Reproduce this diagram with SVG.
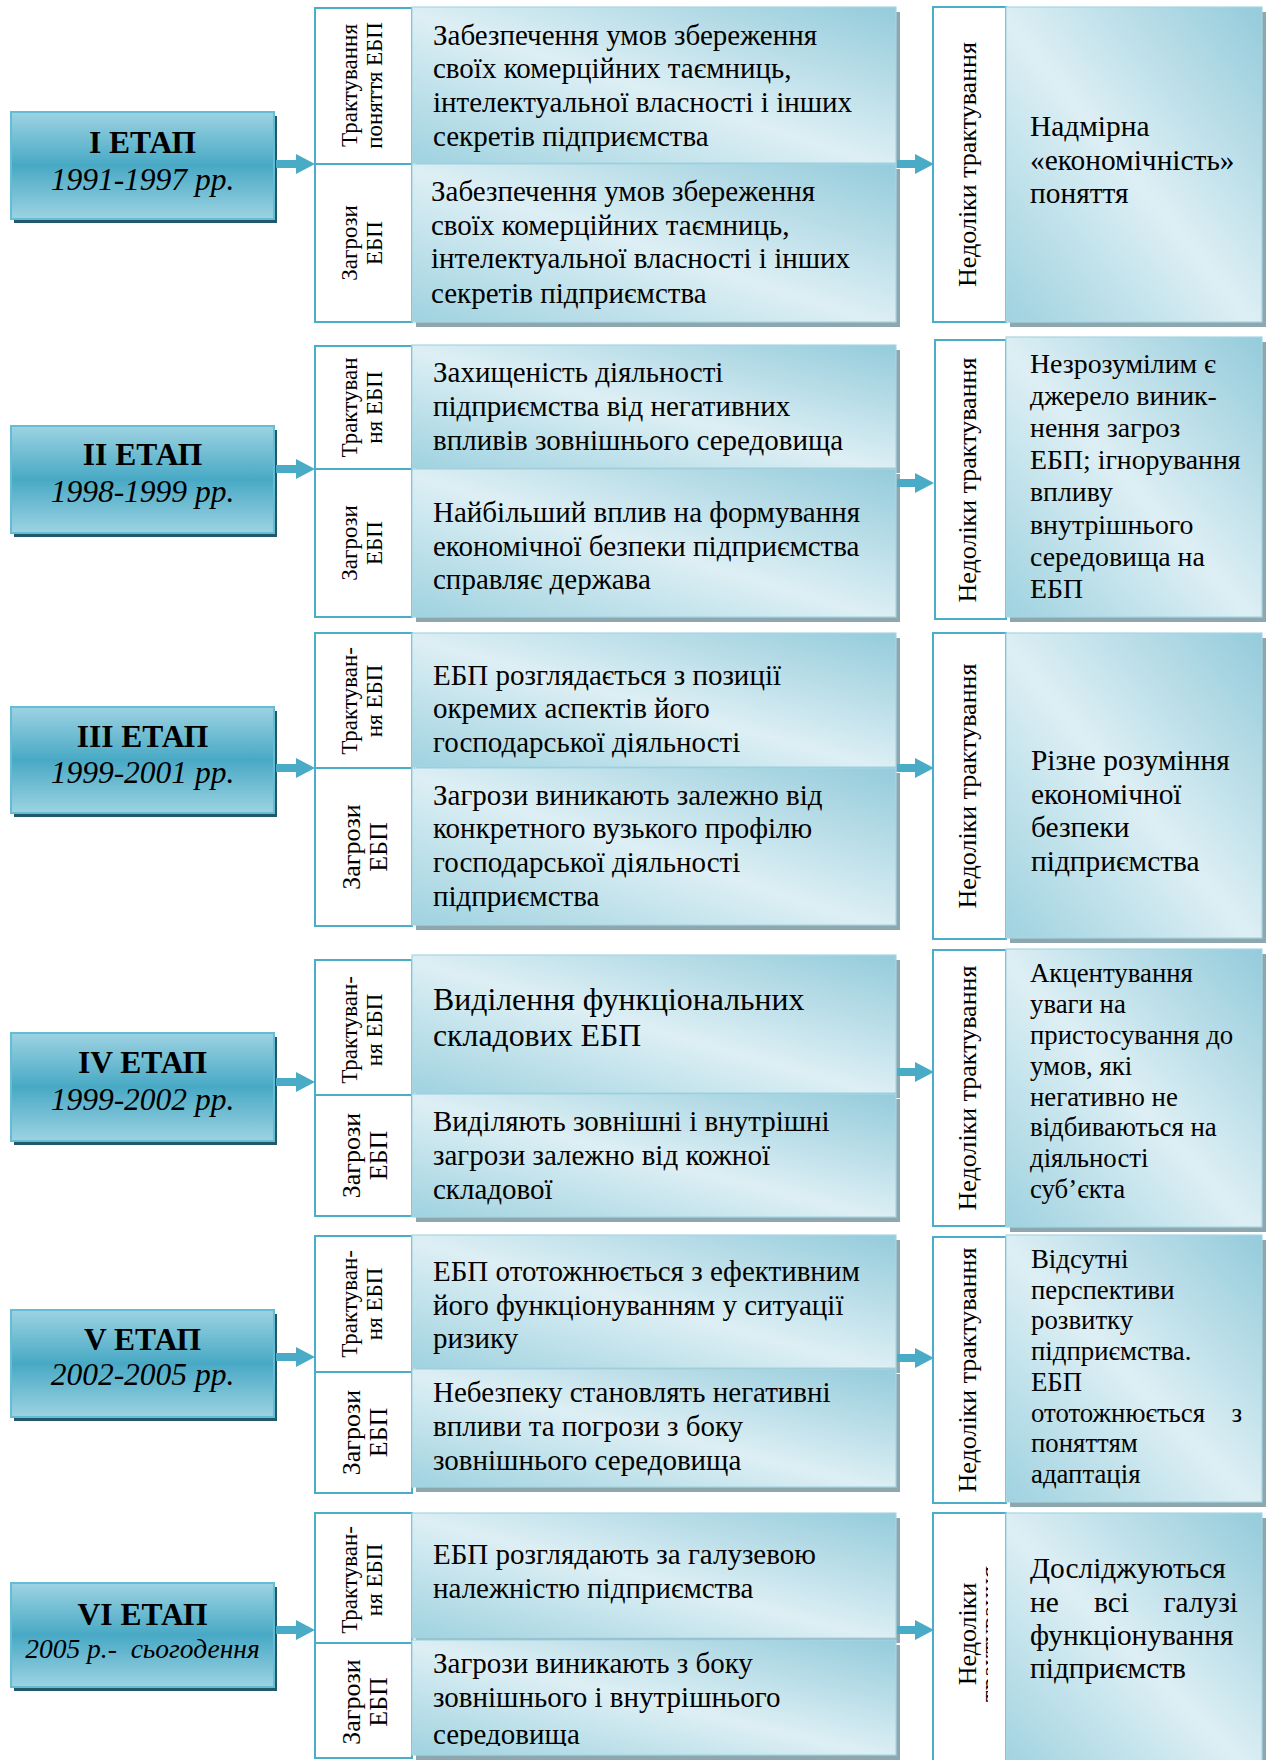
<svg xmlns="http://www.w3.org/2000/svg" width="1268" height="1760" viewBox="0 0 1268 1760">
<defs>
<linearGradient id="gStage" x1="0" y1="0" x2="0" y2="1">
<stop offset="0" stop-color="#9dd3e2"/>
<stop offset="0.5" stop-color="#48a9c5"/>
<stop offset="1" stop-color="#9dd3e2"/>
</linearGradient>
<linearGradient id="gCont" x1="0" y1="1" x2="1" y2="0">
<stop offset="0" stop-color="#9fd2e0"/>
<stop offset="0.48" stop-color="#ddeff4"/>
<stop offset="1" stop-color="#94cbdb"/>
</linearGradient>
<clipPath id="clipNed6"><rect x="930" y="1500" width="58" height="270"/></clipPath>
<clipPath id="clipC6"><rect x="410" y="1640" width="500" height="106"/></clipPath>
</defs>
<style>
.t{font-family:"Liberation Serif","Times New Roman",serif;fill:#000}
.sbox{fill:url(#gStage);stroke:#63bdd5;stroke-width:2}
.sshd{fill:#22596a}
.lbl{fill:#fff;stroke:#4aaec9;stroke-width:2}
.cb{fill:url(#gCont);stroke:#a6d6e3;stroke-width:1.2}
.csh{fill:#8ea6ad}
.arr{fill:#4aabc6}
.st{font-size:31.5px;font-weight:bold;text-anchor:middle}
.yr{font-size:31.5px;font-style:italic;text-anchor:middle}
.lt{font-size:23px;text-anchor:middle}
.lz{font-size:26px;text-anchor:middle}
.nd{font-size:26px;text-anchor:middle}
.c29{font-size:29px}
.c31{font-size:31.8px}
.r29{font-size:29.4px}
.r28{font-size:27.8px}
.r265{font-size:26.8px}
</style>

<!-- Row 1 -->
<g id="stage1">
<rect class="sshd" x="14" y="116" width="263" height="107"/>
<rect class="sbox" x="11" y="112" width="263" height="107"/>
<text class="t st" x="142.5" y="153">I ЕТАП</text>
<text class="t yr" x="142.5" y="190">1991-1997 рр.</text>
</g>
<g id="label1">
<rect class="lbl" x="315" y="8" width="97" height="156"/>
<rect class="lbl" x="315" y="164" width="97" height="158"/>
<text class="t lt" transform="translate(357 85.5) rotate(-90)"><tspan x="0" y="0">Трактування</tspan><tspan x="0" y="25">поняття ЕБП</tspan></text>
<text class="t lt" transform="translate(357 243) rotate(-90)"><tspan x="0" y="0">Загрози</tspan><tspan x="0" y="25">ЕБП</tspan></text>
</g>
<g id="content1">
<rect class="csh" x="416" y="12" width="484" height="156"/>
<rect class="cb" x="412" y="7" width="484" height="156"/>
<rect class="csh" x="416" y="169" width="484" height="158"/>
<rect class="cb" x="412" y="164" width="484" height="158"/>
<text class="t c29" x="433" y="45">Забезпечення умов збереження</text>
<text class="t c29" x="433" y="78">своїх комерційних таємниць,</text>
<text class="t c29" x="433" y="112">інтелектуальної власності і інших</text>
<text class="t c29" x="433" y="146">секретів підприємства</text>
<text class="t c29" x="431" y="201">Забезпечення умов збереження</text>
<text class="t c29" x="431" y="235">своїх комерційних таємниць,</text>
<text class="t c29" x="431" y="268">інтелектуальної власності і інших</text>
<text class="t c29" x="431" y="303">секретів підприємства</text>
</g>
<g id="ned1">
<rect class="lbl" x="933" y="7" width="73" height="315"/>
<text class="t nd" transform="translate(976 164.5) rotate(-90)">Недоліки трактування</text>
</g>
<g id="right1">
<rect class="csh" x="1010" y="12" width="256" height="315"/>
<rect class="cb" x="1006" y="7" width="256" height="315"/>
<text class="t r29" x="1030" y="136">Надмірна</text>
<text class="t r29" x="1030" y="170">«економічність»</text>
<text class="t r29" x="1030" y="203">поняття</text>
</g>

<!-- Row 2 -->
<g id="stage2">
<rect class="sshd" x="14" y="430" width="263" height="107"/>
<rect class="sbox" x="11" y="426" width="263" height="107"/>
<text class="t st" x="142.5" y="465">II ЕТАП</text>
<text class="t yr" x="142.5" y="502">1998-1999 рр.</text>
</g>
<g id="label2">
<rect class="lbl" x="315" y="346" width="97" height="123"/>
<rect class="lbl" x="315" y="469" width="97" height="148"/>
<text class="t lt" transform="translate(357 407.5) rotate(-90)"><tspan x="0" y="0">Трактуван</tspan><tspan x="0" y="25">ня ЕБП</tspan></text>
<text class="t lt" transform="translate(357 543) rotate(-90)"><tspan x="0" y="0">Загрози</tspan><tspan x="0" y="25">ЕБП</tspan></text>
</g>
<g id="content2">
<rect class="csh" x="416" y="350" width="484" height="123"/>
<rect class="cb" x="412" y="345" width="484" height="123"/>
<rect class="csh" x="416" y="474" width="484" height="148"/>
<rect class="cb" x="412" y="469" width="484" height="148"/>
<text class="t c29" x="433" y="382">Захищеність діяльності</text>
<text class="t c29" x="433" y="416">підприємства від негативних</text>
<text class="t c29" x="433" y="450">впливів зовнішнього середовища</text>
<text class="t c29" x="433" y="522">Найбільший вплив на формування</text>
<text class="t c29" x="433" y="556">економічної безпеки підприємства</text>
<text class="t c29" x="433" y="589">справляє держава</text>
</g>
<g id="ned2">
<rect class="lbl" x="935" y="340" width="71" height="279"/>
<text class="t nd" transform="translate(976 480) rotate(-90)">Недоліки трактування</text>
</g>
<g id="right2">
<rect class="csh" x="1010" y="342" width="256" height="280"/>
<rect class="cb" x="1006" y="337" width="256" height="280"/>
<text class="t r28" x="1030" y="373">Незрозумілим є</text>
<text class="t r28" x="1030" y="405">джерело виник-</text>
<text class="t r28" x="1030" y="437">нення загроз</text>
<text class="t r28" x="1030" y="469">ЕБП; ігнорування</text>
<text class="t r28" x="1030" y="501">впливу</text>
<text class="t r28" x="1030" y="534">внутрішнього</text>
<text class="t r28" x="1030" y="566">середовища на</text>
<text class="t r28" x="1030" y="598">ЕБП</text>
</g>

<!-- Row 3 -->
<g id="stage3">
<rect class="sshd" x="14" y="711" width="263" height="106"/>
<rect class="sbox" x="11" y="707" width="263" height="106"/>
<text class="t st" x="142.5" y="747">III ЕТАП</text>
<text class="t yr" x="142.5" y="783">1999-2001 рр.</text>
</g>
<g id="label3">
<rect class="lbl" x="315" y="633" width="97" height="135"/>
<rect class="lbl" x="315" y="768" width="97" height="158"/>
<text class="t lt" transform="translate(357 701) rotate(-90)"><tspan x="0" y="0">Трактуван-</tspan><tspan x="0" y="25">ня ЕБП</tspan></text>
<text class="t lz" transform="translate(360 847) rotate(-90)"><tspan x="0" y="0">Загрози</tspan><tspan x="0" y="27">ЕБП</tspan></text>
</g>
<g id="content3">
<rect class="csh" x="416" y="638" width="484" height="134"/>
<rect class="cb" x="412" y="633" width="484" height="134"/>
<rect class="csh" x="416" y="773" width="484" height="157"/>
<rect class="cb" x="412" y="768" width="484" height="157"/>
<text class="t c29" x="433" y="685">ЕБП розглядається з позиції</text>
<text class="t c29" x="433" y="718">окремих аспектів його</text>
<text class="t c29" x="433" y="752">господарської діяльності</text>
<text class="t c29" x="433" y="805">Загрози виникають залежно від</text>
<text class="t c29" x="433" y="838">конкретного вузького профілю</text>
<text class="t c29" x="433" y="872">господарської діяльності</text>
<text class="t c29" x="433" y="906">підприємства</text>
</g>
<g id="ned3">
<rect class="lbl" x="933" y="633" width="73" height="306"/>
<text class="t nd" transform="translate(976 786) rotate(-90)">Недоліки трактування</text>
</g>
<g id="right3">
<rect class="csh" x="1010" y="638" width="256" height="305"/>
<rect class="cb" x="1006" y="633" width="256" height="305"/>
<text class="t r29" x="1031" y="770">Різне розуміння</text>
<text class="t r29" x="1031" y="804">економічної</text>
<text class="t r29" x="1031" y="837">безпеки</text>
<text class="t r29" x="1031" y="871">підприємства</text>
</g>

<!-- Row 4 -->
<g id="stage4">
<rect class="sshd" x="14" y="1037" width="263" height="108"/>
<rect class="sbox" x="11" y="1033" width="263" height="108"/>
<text class="t st" x="142.5" y="1073">IV ЕТАП</text>
<text class="t yr" x="142.5" y="1110">1999-2002 рр.</text>
</g>
<g id="label4">
<rect class="lbl" x="315" y="960" width="97" height="135"/>
<rect class="lbl" x="315" y="1095" width="97" height="121"/>
<text class="t lt" transform="translate(357 1030) rotate(-90)"><tspan x="0" y="0">Трактуван-</tspan><tspan x="0" y="25">ня ЕБП</tspan></text>
<text class="t lz" transform="translate(360 1155.5) rotate(-90)"><tspan x="0" y="0">Загрози</tspan><tspan x="0" y="27">ЕБП</tspan></text>
</g>
<g id="content4">
<rect class="csh" x="416" y="960" width="484" height="138"/>
<rect class="cb" x="412" y="955" width="484" height="138"/>
<rect class="csh" x="416" y="1099" width="484" height="123"/>
<rect class="cb" x="412" y="1094" width="484" height="123"/>
<text class="t c31" x="433" y="1010">Виділення функціональних</text>
<text class="t c31" x="433" y="1046">складових ЕБП</text>
<text class="t c29" x="433" y="1131">Виділяють зовнішні і внутрішні</text>
<text class="t c29" x="433" y="1165">загрози залежно від кожної</text>
<text class="t c29" x="433" y="1199">складової</text>
</g>
<g id="ned4">
<rect class="lbl" x="933" y="950" width="73" height="276"/>
<text class="t nd" transform="translate(976 1088) rotate(-90)">Недоліки трактування</text>
</g>
<g id="right4">
<rect class="csh" x="1010" y="954" width="256" height="278"/>
<rect class="cb" x="1006" y="949" width="256" height="278"/>
<text class="t r265" x="1030" y="982">Акцентування</text>
<text class="t r265" x="1030" y="1013">уваги на</text>
<text class="t r265" x="1030" y="1044">пристосування до</text>
<text class="t r265" x="1030" y="1075">умов, які</text>
<text class="t r265" x="1030" y="1106">негативно не</text>
<text class="t r265" x="1030" y="1136">відбиваються на</text>
<text class="t r265" x="1030" y="1167">діяльності</text>
<text class="t r265" x="1030" y="1198">суб’єкта</text>
</g>

<!-- Row 5 -->
<g id="stage5">
<rect class="sshd" x="14" y="1314" width="263" height="107"/>
<rect class="sbox" x="11" y="1310" width="263" height="107"/>
<text class="t st" x="142.5" y="1350">V ЕТАП</text>
<text class="t yr" x="142.5" y="1385">2002-2005 рр.</text>
</g>
<g id="label5">
<rect class="lbl" x="315" y="1236" width="97" height="136"/>
<rect class="lbl" x="315" y="1372" width="97" height="121"/>
<text class="t lt" transform="translate(357 1304) rotate(-90)"><tspan x="0" y="0">Трактуван-</tspan><tspan x="0" y="25">ня ЕБП</tspan></text>
<text class="t lz" transform="translate(360 1432.5) rotate(-90)"><tspan x="0" y="0">Загрози</tspan><tspan x="0" y="27">ЕБП</tspan></text>
</g>
<g id="content5">
<rect class="csh" x="416" y="1240" width="484" height="133"/>
<rect class="cb" x="412" y="1235" width="484" height="133"/>
<rect class="csh" x="416" y="1374" width="484" height="118"/>
<rect class="cb" x="412" y="1369" width="484" height="118"/>
<text class="t c29" x="433" y="1281">ЕБП ототожнюється з ефективним</text>
<text class="t c29" x="433" y="1315">його функціонуванням у ситуації</text>
<text class="t c29" x="433" y="1348">ризику</text>
<text class="t c29" x="433" y="1402">Небезпеку становлять негативні</text>
<text class="t c29" x="433" y="1436">впливи та погрози з боку</text>
<text class="t c29" x="433" y="1470">зовнішнього середовища</text>
</g>
<g id="ned5">
<rect class="lbl" x="933" y="1237" width="73" height="266"/>
<text class="t nd" transform="translate(976 1370) rotate(-90)">Недоліки трактування</text>
</g>
<g id="right5">
<rect class="csh" x="1010" y="1240" width="256" height="267"/>
<rect class="cb" x="1006" y="1235" width="256" height="267"/>
<text class="t r265" x="1031" y="1268">Відсутні</text>
<text class="t r265" x="1031" y="1299">перспективи</text>
<text class="t r265" x="1031" y="1329">розвитку</text>
<text class="t r265" x="1031" y="1360">підприємства.</text>
<text class="t r265" x="1031" y="1391">ЕБП</text>
<text class="t r265" x="1031" y="1422">ототожнюється</text>
<text class="t r265" x="1242" y="1422" text-anchor="end">з</text>
<text class="t r265" x="1031" y="1452">поняттям</text>
<text class="t r265" x="1031" y="1483">адаптація</text>
</g>

<!-- Row 6 -->
<g id="stage6">
<rect class="sshd" x="14" y="1587" width="263" height="104"/>
<rect class="sbox" x="11" y="1583" width="263" height="104"/>
<text class="t st" x="142.5" y="1625">VI ЕТАП</text>
<text class="t yr" x="142.5" y="1658" style="font-size:27.5px;white-space:pre">2005 р.-  сьогодення</text>
</g>
<g id="label6">
<rect class="lbl" x="315" y="1513" width="97" height="130"/>
<rect class="lbl" x="315" y="1643" width="97" height="115"/>
<text class="t lt" transform="translate(357 1580) rotate(-90)"><tspan x="0" y="0">Трактуван-</tspan><tspan x="0" y="25">ня ЕБП</tspan></text>
<text class="t lz" transform="translate(360 1702) rotate(-90)"><tspan x="0" y="0">Загрози</tspan><tspan x="0" y="27">ЕБП</tspan></text>
</g>
<g id="content6">
<rect class="csh" x="416" y="1518" width="484" height="125"/>
<rect class="cb" x="412" y="1513" width="484" height="125"/>
<rect class="csh" x="416" y="1645" width="484" height="115"/>
<rect class="cb" x="412" y="1640" width="484" height="115"/>
<text class="t c29" x="433" y="1564">ЕБП розглядають за галузевою</text>
<text class="t c29" x="433" y="1598">належністю підприємства</text>
<g clip-path="url(#clipC6)">
<text class="t c29" x="433" y="1673">Загрози виникають з боку</text>
<text class="t c29" x="433" y="1707">зовнішнього і внутрішнього</text>
<text class="t c29" x="433" y="1744">середовища</text>
</g>
</g>
<g id="ned6">
<rect class="lbl" x="933" y="1513" width="73" height="260"/>
<g clip-path="url(#clipNed6)">
<text class="t nd" transform="translate(976 1634) rotate(-90)"><tspan x="0" y="0">Недоліки</tspan><tspan x="0" y="22">трактування</tspan></text>
</g>
</g>
<g id="right6">
<rect class="csh" x="1010" y="1518" width="256" height="260"/>
<rect class="cb" x="1006" y="1513" width="256" height="260"/>
<text class="t r29" x="1030" y="1578">Досліджуються</text>
<text class="t r29" x="1030" y="1612">не</text>
<text class="t r29" x="1094" y="1612">всі</text>
<text class="t r29" x="1238" y="1612" text-anchor="end">галузі</text>
<text class="t r29" x="1030" y="1645">функціонування</text>
<text class="t r29" x="1030" y="1678">підприємств</text>
</g>

<g id="connectors">
<path class="arr" d="M276 160 H296 V154 L315 164 L296 174 V168 H276 Z"/>
<path class="arr" d="M897 160 H915 V154 L934 164 L915 174 V168 H897 Z"/>
<path class="arr" d="M276 465 H296 V459 L315 469 L296 479 V473 H276 Z"/>
<path class="arr" d="M897 479 H915 V473 L934 483 L915 493 V487 H897 Z"/>
<path class="arr" d="M276 764 H296 V758 L315 768 L296 778 V772 H276 Z"/>
<path class="arr" d="M897 764 H915 V758 L934 768 L915 778 V772 H897 Z"/>
<path class="arr" d="M276 1078 H296 V1072 L315 1082 L296 1092 V1086 H276 Z"/>
<path class="arr" d="M897 1068 H915 V1062 L934 1072 L915 1082 V1076 H897 Z"/>
<path class="arr" d="M276 1353 H296 V1347 L315 1357 L296 1367 V1361 H276 Z"/>
<path class="arr" d="M897 1354 H915 V1348 L934 1358 L915 1368 V1362 H897 Z"/>
<path class="arr" d="M276 1626 H296 V1620 L315 1630 L296 1640 V1634 H276 Z"/>
<path class="arr" d="M897 1626 H915 V1620 L934 1630 L915 1640 V1634 H897 Z"/>
</g>
</svg>
